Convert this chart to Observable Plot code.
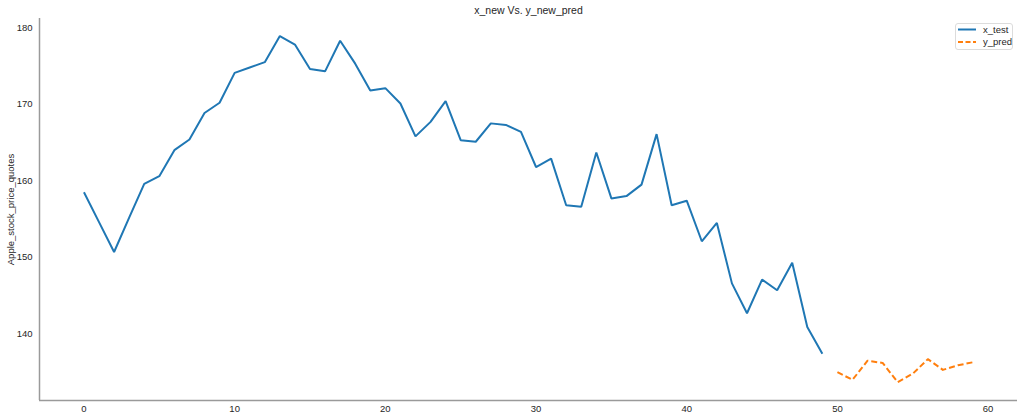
<!DOCTYPE html>
<html>
<head>
<meta charset="utf-8">
<script src="https://cdn.jsdelivr.net/npm/d3@7"></script>
<script src="https://cdn.jsdelivr.net/npm/@observablehq/plot@0.6"></script>
<style>
  html, body { margin: 0; padding: 0; background: #fff; }
  #wrap { position: relative; width: 1024px; height: 420px; font-family: "Liberation Sans", Arial, sans-serif; }
  #legend { position: absolute; left: 955px; top: 23px; width: 58px; height: 27px; border: 1px solid #dcdcdc; border-radius: 3px; background: #fff; box-sizing: border-box; }
</style>
</head>
<body>
<div id="wrap"></div>
<script>
const title = "x_new Vs. y_new_pred";
const yLabel = "Apple_stock_price_quotes";
const seriesNames = ["x_test", "y_pred"];
const seriesColors = ["#1f77b4", "#ff7f0e"];

// x_test: indices 0..49
const xTest = [
  158.5, 154.6, 150.7, 155.2, 159.6, 160.6, 164.0, 165.4, 168.85, 170.2,
  174.1, 174.8, 175.5, 178.9, 177.8, 174.6, 174.3, 178.3, 175.3, 171.8,
  172.1, 170.1, 165.8, 167.7, 170.4, 165.3, 165.1, 167.5, 167.3, 166.4,
  161.8, 162.9, 156.8, 156.6, 163.7, 157.7, 158.0, 159.5, 166.1, 156.8,
  157.4, 152.1, 154.5, 146.6, 142.7, 147.1, 145.7, 149.3, 140.9, 137.4
];
// y_pred: indices 50..59
const yPred = [135.0, 134.0, 136.5, 136.2, 133.7, 134.8, 136.7, 135.3, 135.9, 136.3];
const predStart = 50;

const xTicks = [0, 10, 20, 30, 40, 50, 60];
const yTicks = [140, 150, 160, 170, 180];
const xDomain = [-2.95, 61.95];
const yDomain = [131.3, 181.2];

const testData = xTest.map((v, i) => ({x: i, y: v}));
const predData = yPred.map((v, i) => ({x: predStart + i, y: v}));

const textColor = "#262626";
const spineColor = "#9a9a9a";

const chart = Plot.plot({
  width: 1024,
  height: 420,
  marginLeft: 39,
  marginRight: 7,
  marginTop: 18,
  marginBottom: 20,
  style: {fontFamily: '"Liberation Sans", Arial, sans-serif', fontSize: "9.5px", color: textColor, background: "#fff"},
  x: {domain: xDomain},
  y: {domain: yDomain},
  marks: [
    Plot.axisX({ticks: xTicks, tickSize: 0, tickPadding: 5, label: null, fontSize: 9.5, fill: textColor}),
    Plot.axisY({ticks: yTicks, tickSize: 0, tickPadding: 7, label: null, fontSize: 9.5, fill: textColor}),
    Plot.ruleX([xDomain[0]], {y1: yDomain[0], y2: yDomain[1], stroke: spineColor, strokeWidth: 1.5}),
    Plot.ruleY([yDomain[0]], {x1: xDomain[0], x2: xDomain[1], stroke: spineColor, strokeWidth: 1.5}),
    Plot.line(testData, {x: "x", y: "y", stroke: seriesColors[0], strokeWidth: 2, strokeLinejoin: "miter", strokeLinecap: "butt"}),
    Plot.line(predData, {x: "x", y: "y", stroke: seriesColors[1], strokeWidth: 2, strokeDasharray: "6,3", strokeLinecap: "butt"}),
    Plot.text([title], {frameAnchor: "top", dy: -8, text: d => d, fontSize: 10.5, fill: textColor, lineAnchor: "middle"}),
    Plot.text([yLabel], {frameAnchor: "left", dx: -29, rotate: -90, text: d => d, fontSize: 9.5, fill: textColor, lineAnchor: "middle", textAnchor: "middle"})
  ]
});
const wrap = document.getElementById("wrap");
wrap.appendChild(chart);

// legend
const leg = document.createElement("div");
leg.id = "legend";
wrap.appendChild(leg);
const lsvg = d3.select(leg).append("svg").attr("width", 58).attr("height", 27).style("position", "absolute").style("left", "-1px").style("top", "-1px");
seriesNames.forEach((name, i) => {
  const cy = 6.5 + i * 12.5;
  lsvg.append("line").attr("x1", 3).attr("x2", 21).attr("y1", cy).attr("y2", cy)
    .attr("stroke", seriesColors[i]).attr("stroke-width", 2)
    .attr("stroke-dasharray", i === 1 ? "5,2.5" : null);
  lsvg.append("text").attr("x", 28).attr("y", cy).attr("dy", "0.35em")
    .attr("font-size", 9.5).attr("fill", textColor)
    .attr("font-family", '"Liberation Sans", Arial, sans-serif').text(name);
});
</script>
</body>
</html>
